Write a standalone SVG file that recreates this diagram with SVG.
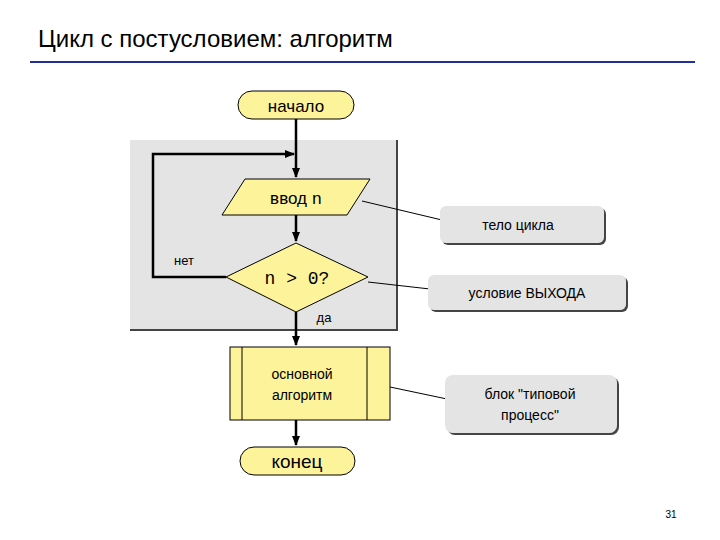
<svg xmlns="http://www.w3.org/2000/svg" width="720" height="540" viewBox="0 0 720 540">
<defs>
<marker id="ah" markerWidth="10" markerHeight="10" refX="9" refY="5" orient="auto" markerUnits="userSpaceOnUse"><path d="M0,1 L10,5 L0,9 Z" fill="#000"/></marker>
<filter id="sh" x="-10%" y="-10%" width="130%" height="140%"><feDropShadow dx="2" dy="2" stdDeviation="0.5" flood-color="#333" flood-opacity="0.9"/></filter>
</defs>
<style>
.n{fill:#fdf39a;stroke:#000;stroke-width:1}
.t{font-family:"Liberation Sans",Arial,sans-serif;fill:#000;text-anchor:middle}
.m{font-family:"Liberation Mono","Courier New",monospace}
.c{stroke:#000;stroke-width:2.5;fill:none}
.co{fill:#e4e4e4;filter:url(#sh)}
.pl{stroke:#000;stroke-width:1;fill:none}
</style>
<rect width="720" height="540" fill="#fff"/>
<text x="38" y="47" font-family="Liberation Sans,Arial,sans-serif" font-size="24">Цикл с постусловием: алгоритм</text>
<line x1="30" y1="62" x2="695" y2="62" stroke="#1f2f9e" stroke-width="2"/>
<rect x="130" y="140" width="267" height="190" fill="#e4e4e4"/>
<polyline points="397,140 397,330 130,330" stroke="#444" stroke-width="2" fill="none"/>
<g id="connectors">
<line class="c" x1="296" y1="119" x2="296" y2="177" marker-end="url(#ah)"/>
<polyline class="c" points="226,277 153,277 153,154 294,154" marker-end="url(#ah)"/>
<line class="c" x1="296" y1="215" x2="296" y2="241" marker-end="url(#ah)"/>
<line class="c" x1="296" y1="312" x2="296" y2="345" marker-end="url(#ah)"/>
<line class="c" x1="296" y1="420" x2="296" y2="445" marker-end="url(#ah)"/>
<line class="pl" x1="362" y1="201" x2="442" y2="220"/>
<line class="pl" x1="368" y1="282" x2="430" y2="289"/>
<line class="pl" x1="390" y1="387" x2="447" y2="399"/>
</g>
<g id="start"><rect class="n" x="238" y="91" width="116" height="28" rx="14"/><text class="t" x="296" y="112" font-size="17">начало</text></g>
<g id="input"><polygon class="n" points="245,179 370,179 347,215 222,215"/><text class="t" x="296" y="204" font-size="17">ввод <tspan class="m">n</tspan></text></g>
<g id="cond"><polygon class="n" points="296,243 368,277 296,312 226,277"/><text class="t m" x="297" y="284" font-size="18">n &gt; 0?</text></g>
<text class="t" x="184" y="265" font-size="13">нет</text>
<text class="t" x="324" y="322" font-size="13">да</text>
<g id="proc"><rect class="n" x="230" y="347" width="160" height="73"/><line class="pl" x1="242" y1="347" x2="242" y2="420"/><line class="pl" x1="367" y1="347" x2="367" y2="420"/><text class="t" x="302" y="379" font-size="14">основной</text><text class="t" x="302" y="400" font-size="14">алгоритм</text></g>
<g id="end"><rect class="n" x="240" y="447" width="115" height="28" rx="14"/><text class="t" x="297" y="468" font-size="19">конец</text></g>
<g id="c1"><rect class="co" x="440" y="206" width="164" height="37" rx="6"/><text class="t" x="518" y="230" font-size="14">тело цикла</text></g>
<g id="c2"><rect class="co" x="428" y="275" width="198" height="35" rx="6"/><text class="t" x="527" y="298" font-size="14">условие ВЫХОДА</text></g>
<g id="c3"><rect class="co" x="445" y="375" width="172" height="58" rx="8"/><text class="t" x="530" y="399" font-size="14">блок "типовой</text><text class="t" x="530" y="420" font-size="14">процесс"</text></g>
<text class="t" x="671" y="518" font-size="10" fill="#555">31</text>
</svg>
